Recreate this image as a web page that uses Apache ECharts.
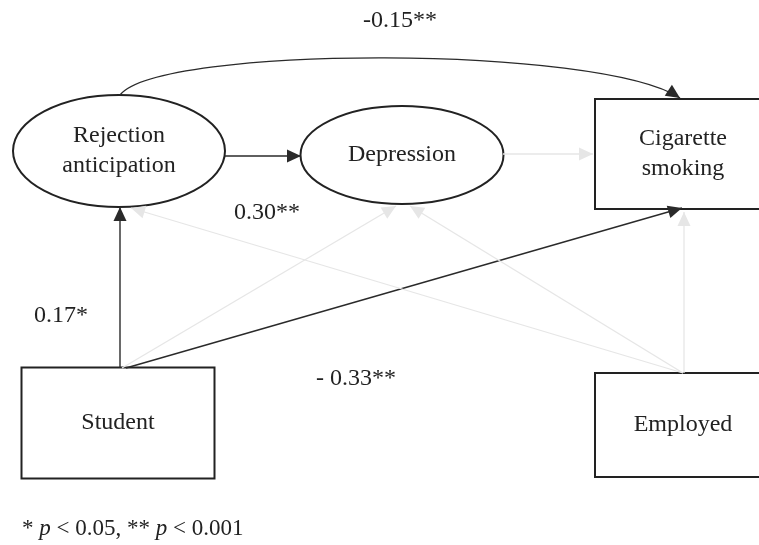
<!DOCTYPE html>
<html><head><meta charset="utf-8">
<script src="https://cdn.jsdelivr.net/npm/echarts@6/dist/echarts.min.js"></script>
<style>html,body{margin:0;padding:0;background:#fff}#c{width:759px;height:545px}</style>
</head><body><div id="c"></div>
<script>
// ---- data ----
const nodeNames = ['Rejection\nanticipation', 'Depression', 'Cigarette\nsmoking', 'Student', 'Employed'];
const pathFrom = [0, 1, 0, 3, 3, 3, 4, 4, 4];
const pathTo   = [1, 2, 2, 0, 2, 1, 0, 1, 2];
const pathCoef = ['0.30**', '', '-0.15**', '0.17*', '- 0.33**', '', '', '', ''];
const pathSig  = [1, 0, 1, 1, 1, 0, 0, 0, 0];
const footnoteParts = ['* ', 'p', ' < 0.05, ** ', 'p', ' < 0.001'];

// ---- layout (diagram space, mapped through value axes) ----
const nodeShape = ['ellipse', 'ellipse', 'rect', 'rect', 'rect'];
const nodeBox = [[119, 151, 212, 112], [402, 155, 203, 98], [683, 154, 176, 110], [118, 423, 193, 111], [683, 425, 176, 104]];
const pathStart = [[225, 156], [503, 154], [120, 95], [120, 368], [126, 368], [122, 368], [683, 373], [683, 373], [684, 373]];
const pathEnd   = [[301, 156], [593, 154], [680, 98], [120, 207], [682, 208], [396, 206], [131, 208], [410, 206], [684, 212]];
const pathCtrl  = [null, null, [[160, 45], [600, 45]], null, null, null, null, null, null];
const labelPos  = [[267, 213], null, [400, 21], [61, 316], [356, 379], null, null, null, null];

const FONT = '"Liberation Serif", "Times New Roman", serif';
const DARK = '#222';
const LINE = '#2a2a2a';
const LIGHT = '#e6e6e6';

function arrowHead(tip, from, color) {
  const dx = tip[0] - from[0], dy = tip[1] - from[1];
  const len = Math.sqrt(dx * dx + dy * dy) || 1;
  const ux = dx / len, uy = dy / len;
  const L = 14, W = 6.5;
  const bx = tip[0] - ux * L, by = tip[1] - uy * L;
  return {
    type: 'polygon',
    shape: { points: [tip, [bx - uy * W, by + ux * W], [bx + uy * W, by - ux * W]] },
    style: { fill: color }
  };
}

const chart = echarts.init(document.getElementById('c'), null, { renderer: 'canvas' });
chart.setOption({
  animation: false,
  backgroundColor: '#fff',
  grid: { left: 0, right: 0, top: 0, bottom: 0 },
  xAxis: { type: 'value', min: 0, max: 759, show: false },
  yAxis: { type: 'value', min: 0, max: 545, inverse: true, show: false },
  title: {
    left: 17, top: 512,
    text: footnoteParts.map((t, i) => (i % 2 === 1 ? '{i|' : '{n|') + t + '}').join(''),
    textStyle: {
      fontWeight: 'normal',
      rich: {
        n: { fontFamily: FONT, fontSize: 23, color: DARK, fontWeight: 'normal' },
        i: { fontFamily: FONT, fontSize: 23, color: DARK, fontStyle: 'italic', fontWeight: 'normal' }
      }
    }
  },
  series: [
    {
      type: 'custom', coordinateSystem: 'cartesian2d', clip: false, z: 1,
      data: nodeNames.map((n, i) => [i]),
      renderItem: function (params, api) {
        const i = api.value(0);
        const b = nodeBox[i];
        const c = api.coord([b[0], b[1]]);
        const p2 = api.coord([b[0] + b[2] / 2, b[1] + b[3] / 2]);
        const hw = p2[0] - c[0], hh = p2[1] - c[1];
        const shape = nodeShape[i] === 'ellipse'
          ? { type: 'ellipse', shape: { cx: c[0], cy: c[1], rx: hw, ry: hh }, style: { fill: '#fff', stroke: DARK, lineWidth: 2 } }
          : { type: 'rect', shape: { x: c[0] - hw, y: c[1] - hh, width: hw * 2, height: hh * 2 }, style: { fill: '#fff', stroke: DARK, lineWidth: 2 } };
        return {
          type: 'group',
          children: [shape, {
            type: 'text',
            style: { text: nodeNames[i], x: c[0], y: c[1], align: 'center', verticalAlign: 'middle', fontFamily: FONT, fontSize: 24, lineHeight: 30, fill: DARK }
          }]
        };
      }
    },
    {
      type: 'custom', coordinateSystem: 'cartesian2d', clip: false, z: 2,
      data: pathFrom.map((f, i) => [i]),
      renderItem: function (params, api) {
        const i = api.value(0);
        const color = pathSig[i] ? LINE : LIGHT;
        const s = api.coord(pathStart[i]);
        const e = api.coord(pathEnd[i]);
        const children = [];
        let dirFrom = s;
        if (pathCtrl[i]) {
          const c1 = api.coord(pathCtrl[i][0]);
          const c2 = api.coord(pathCtrl[i][1]);
          children.push({ type: 'bezierCurve', shape: { x1: s[0], y1: s[1], cpx1: c1[0], cpy1: c1[1], cpx2: c2[0], cpy2: c2[1], x2: e[0], y2: e[1] }, style: { stroke: color, lineWidth: 1.4, fill: null } });
          dirFrom = c2;
        } else {
          children.push({ type: 'line', shape: { x1: s[0], y1: s[1], x2: e[0], y2: e[1] }, style: { stroke: color, lineWidth: pathSig[i] ? 1.4 : 1.3 } });
        }
        children.push(arrowHead(e, dirFrom, color));
        return { type: 'group', children: children };
      }
    },
    {
      type: 'custom', coordinateSystem: 'cartesian2d', clip: false, z: 3,
      data: pathCoef.map((t, i) => [i]).filter(d => pathCoef[d[0]] !== ''),
      renderItem: function (params, api) {
        const i = api.value(0);
        const p = api.coord(labelPos[i]);
        return { type: 'text', style: { text: pathCoef[i], x: p[0], y: p[1], align: 'center', verticalAlign: 'middle', fontFamily: FONT, fontSize: 24, fill: DARK } };
      }
    }
  ]
});
</script>
</body></html>
